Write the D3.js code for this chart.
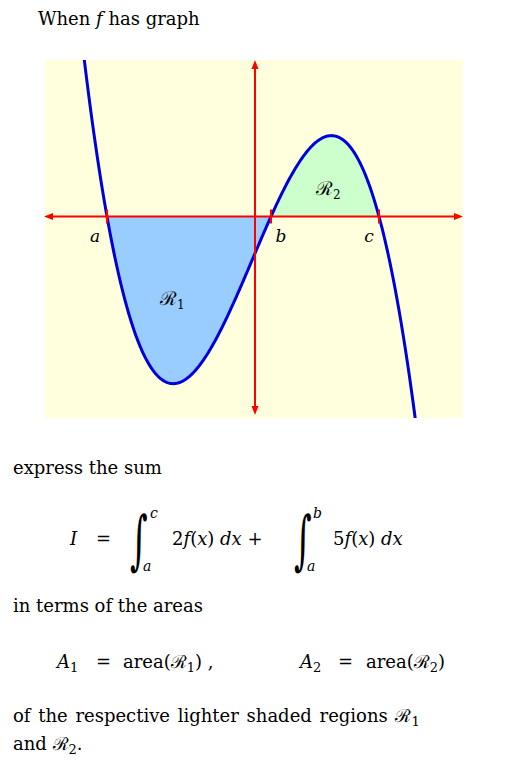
<!DOCTYPE html>
<html><head><meta charset="utf-8">
<script src="https://cdn.jsdelivr.net/npm/d3@7"></script>
<style>body{margin:0;background:#fff}svg text{font-family:"DejaVu Serif",serif;fill:#000}</style>
</head><body><svg width="520" height="763"></svg>
<script>
// roots of the cubic (a, b, c)
const rootNames = ["a", "b", "c"];
const rootValues = [-3.7, 0.4, 3.1];
const xDomain = [-5.25, 5.2];
const yDomain = [19.5, -25.1];

const svg = d3.select("svg");
const x = d3.scaleLinear().domain(xDomain).range([45, 463]);
const y = d3.scaleLinear().domain(yDomain).range([60, 418]);
const f = t => -(t - rootValues[0]) * (t - rootValues[1]) * (t - rootValues[2]);

svg.append("defs").append("clipPath").attr("id", "clip")
  .append("rect").attr("x", 45).attr("y", 60).attr("width", 418).attr("height", 358);
svg.append("rect").attr("x", 45).attr("y", 60).attr("width", 418).attr("height", 358).attr("fill", "#ffffdd");

const g = svg.append("g").attr("clip-path", "url(#clip)");
const area = d3.area().x(d => x(d)).y0(y(0)).y1(d => y(f(d)));
g.append("path").datum(d3.range(rootValues[0], rootValues[1] + 0.001, 0.02))
  .attr("d", area).attr("fill", "#99ccff");
g.append("path").datum(d3.range(rootValues[1], rootValues[2] + 0.001, 0.02))
  .attr("d", area).attr("fill", "#ccffcc");

// axes
const red = "#ff0000";
svg.append("line").attr("x1", 48).attr("x2", 460).attr("y1", y(0)).attr("y2", y(0)).attr("stroke", red).attr("stroke-width", 2);
svg.append("line").attr("x1", x(0)).attr("x2", x(0)).attr("y1", 63).attr("y2", 412).attr("stroke", red).attr("stroke-width", 2);
const arrow = (px, py, dx, dy) => {
  const nx = -dy, ny = dx;
  svg.append("path").attr("d", `M${px},${py}L${px - 9*dx + 3.5*nx},${py - 9*dy + 3.5*ny}L${px - 9*dx - 3.5*nx},${py - 9*dy - 3.5*ny}Z`).attr("fill", red);
};
arrow(463, y(0), 1, 0); arrow(44, y(0), -1, 0);
arrow(x(0), 60, 0, -1); arrow(x(0), 415, 0, 1);

svg.selectAll(".tick").data(rootValues).enter().append("line")
  .attr("x1", d => x(d)).attr("x2", d => x(d)).attr("y1", y(0) - 7).attr("y2", y(0) + 7)
  .attr("stroke", red).attr("stroke-width", 2);
svg.selectAll(".rl").data(rootNames).enter().append("text")
  .attr("x", (d, i) => x(rootValues[i]) + [-12, 10, -10][i]).attr("y", y(0) + 25)
  .attr("text-anchor", "middle").attr("font-style", "italic").attr("font-size", 17).text(d => d);

// curve
g.append("path").datum(d3.range(xDomain[0], xDomain[1], 0.02))
  .attr("d", d3.line().x(d => x(d)).y(d => y(f(d))))
  .attr("fill", "none").attr("stroke", "#0000dd").attr("stroke-width", 3);

svg.append("text").attr("x", 160).attr("y", 305).attr("font-size", 19).html("ℛ<tspan font-size='12' dy='4'>1</tspan>");
svg.append("text").attr("x", 316).attr("y", 195).attr("font-size", 19).html("ℛ<tspan font-size='12' dy='4'>2</tspan>");

// text
const T = (tx, ty, s, opt = {}) => svg.append("text").attr("x", tx).attr("y", ty)
  .attr("font-size", opt.size || 18).attr("font-style", opt.it ? "italic" : null).html(s);
T(38, 25, "When <tspan font-style='italic'>f</tspan> has graph");
T(13, 474, "express the sum");
T(70, 545, "I", {it: 1});
T(96, 545, "=");
svg.append("text").attr("transform", "translate(130,562) scale(1,1.9)").attr("font-size", 34).text("∫");
T(150, 518, "c", {it: 1, size: 14});
T(143, 571, "a", {it: 1, size: 14});
T(172, 545, "2<tspan font-style='italic'>f</tspan>(<tspan font-style='italic'>x</tspan>) <tspan font-style='italic'>dx</tspan> +");
svg.append("text").attr("transform", "translate(294,562) scale(1,1.9)").attr("font-size", 34).text("∫");
T(313, 518, "b", {it: 1, size: 14});
T(307, 571, "a", {it: 1, size: 14});
T(333, 545, "5<tspan font-style='italic'>f</tspan>(<tspan font-style='italic'>x</tspan>) <tspan font-style='italic'>dx</tspan>");
T(13, 612, "in terms of the areas");
T(57, 668, "<tspan font-style='italic'>A</tspan><tspan font-size='13' dy='4'>1</tspan>");
T(96, 668, "=");
T(123, 668, "area(ℛ<tspan font-size='13' dy='4'>1</tspan><tspan dy='-4'>) ,</tspan>");
T(300, 668, "<tspan font-style='italic'>A</tspan><tspan font-size='13' dy='4'>2</tspan>");
T(338, 668, "=");
T(366, 668, "area(ℛ<tspan font-size='13' dy='4'>2</tspan><tspan dy='-4'>)</tspan>");
T(13, 722, "of the respective lighter shaded regions ℛ<tspan font-size='13' dy='4'>1</tspan>").attr("word-spacing", 2);
T(13, 750, "and ℛ<tspan font-size='13' dy='4'>2</tspan><tspan dy='-4'>.</tspan>");
</script></body></html>
